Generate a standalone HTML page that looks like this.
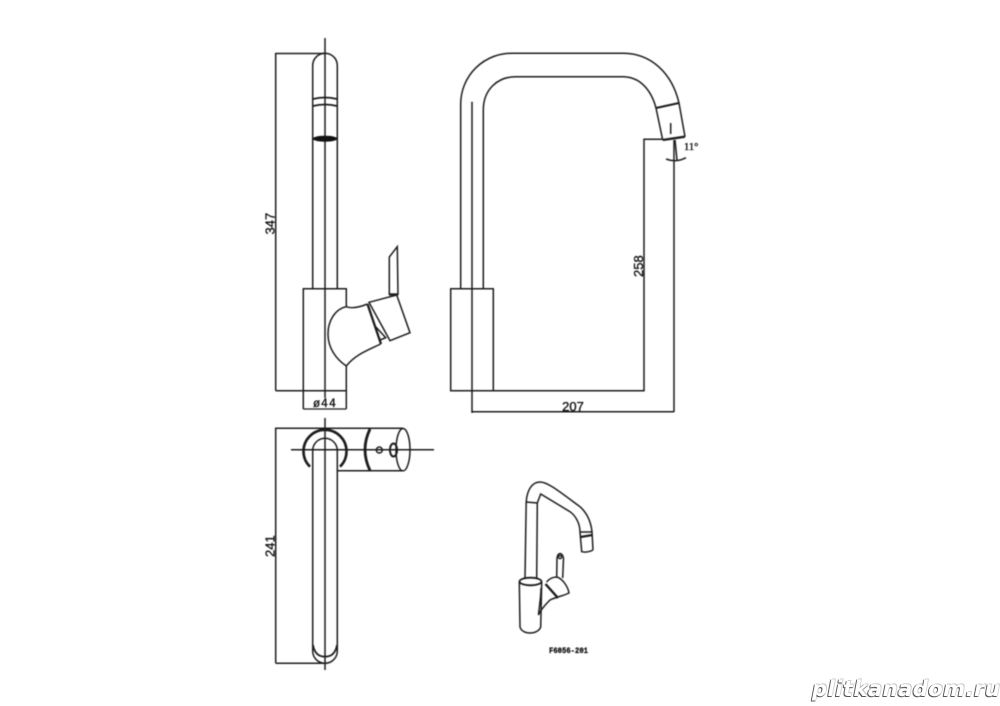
<!DOCTYPE html>
<html>
<head>
<meta charset="utf-8">
<style>
html,body{margin:0;padding:0;background:#fff;width:1000px;height:706px;overflow:hidden}
svg{position:absolute;left:0;top:0;filter:blur(.4px)}
#wm{position:absolute;left:812px;top:677px;width:190px;font:italic bold 21px "DejaVu Sans",sans-serif;letter-spacing:.5px;color:#fff;white-space:nowrap;text-shadow:-1px 1px 0 #555,1px -1px 0 #ccc,-1px 0 0 #777,0 1px 0 #888}
text{font-family:"Liberation Sans",sans-serif;fill:#111;stroke:#111;stroke-width:.35px}
</style>
</head>
<body>
<svg width="1000" height="706" viewBox="0 0 1000 706" fill="none" stroke="#1c1c1c" stroke-width="1.5">
<!-- FRONT VIEW -->
<path d="M312.7 288.7V65.5a12.3 12.3 0 0 1 24.6 0V288.7"/>
<path d="M325 38V398"/>
<path d="M275.7 390.7V53.5H325"/>
<path d="M275.7 390.7H303.3"/>
<path d="M313 99Q325 96 337 99M313 106Q325 103 337 106" stroke-width="1.7"/>
<ellipse cx="325" cy="138.7" rx="12.3" ry="3" fill="#111" stroke="none"/>
<path d="M303.3 409V288.7H346.3V306.7M346.3 366V409"/>
<path d="M303.3 390.7H346.3"/>
<path d="M303.3 409H346.3" stroke-width="1.2"/>
<path d="M346.3 306.7C335 309 328 321 328 334C328 348 336 359 346.3 366C355 355 366 351 380.7 344"/>
<path d="M346.3 306.7C352 309 360 307 367.5 304"/>
<path d="M367.5 304L381 344" stroke-width="2.3"/>
<path d="M369 302.3L396.7 295L410 332.7L390 340.7Z"/>
<path d="M375 326L385.7 337.7L380 340"/>
<path d="M389.3 295V257L397.3 246.7L398 295" />
<path d="M389.3 294.5H398" stroke-width="2.4"/>
<text x="325" y="407" text-anchor="middle" font-size="11.5" letter-spacing="1" style="font-family:'DejaVu Sans Mono','Liberation Mono',monospace">ø44</text>
<text transform="translate(274.5,234.5) rotate(-90)" font-size="13">347</text>

<!-- TOP VIEW -->
<path d="M275.7 663.3V428.3H403"/>
<path d="M275.7 663.3H325"/>
<path d="M337 470.7H403"/>
<path d="M291 449.7H434"/>
<path d="M325 418V670"/>
<path d="M310 466.7A21.5 21.5 0 1 1 340 466.7" stroke-width="2.6"/>
<path d="M312.7 651V450.6a12.3 12.3 0 0 1 24.6 0V651"/>
<path d="M312.7 651a12.3 12.3 0 0 0 24.6 0"/>
<path d="M313 645Q315 656.7 325 656.7T337 645" stroke-width="1.8"/>
<path d="M370 429Q360 449.7 370 470.5" stroke-width="2.8"/>
<ellipse cx="403" cy="449.7" rx="7" ry="21.2"/>
<circle cx="379.3" cy="450" r="3"/>
<ellipse cx="393.5" cy="450" rx="3.6" ry="6.5" stroke-width="2"/>
<text transform="translate(274.5,557) rotate(-90)" font-size="13">241</text>

<!-- SIDE VIEW -->
<path d="M460.7 288.7V104A50.7 50.7 0 0 1 513 53.3H623C651 53.3 672 73 679 103L685 136.7"/>
<path d="M483.3 288.7V110C483.3 90 497 76.7 516 76.7H623C639 76.7 651 89 656 108L662.7 140"/>
<path d="M656 108L679 103" stroke-width="2"/>
<path d="M662.7 140L685 136.7" stroke-width="2.4"/>
<path d="M670.7 123V134"/>
<path d="M472 101.7V413"/>
<path d="M450.7 288.7H493.3V390.7H450.7Z"/>
<path d="M493.3 390.7H644V139.3H663"/>
<path d="M674 412V140"/>
<path d="M472 411.7H674"/>
<path d="M666 159Q676 163 686 157.7"/>
<path d="M675 140L677 160"/>
<text x="573" y="411" text-anchor="middle" font-size="13">207</text>
<text transform="translate(643,277) rotate(-90)" font-size="13">258</text>
<text x="684" y="150" font-size="10.5" style="font-family:'Liberation Serif',serif">11°</text>

<!-- SMALL ISO VIEW -->
<path d="M525 578L526.2 502C527 490 532 482 540 482C548 482 560 492 580 506.7C587 513 591 522 592 532L593 550"/>
<path d="M536.7 578L537.3 503L540.7 494L570 511.7C576 516 580 524 580 532L581.7 551.7Q587 553 593 550"/>
<path d="M526.2 502L537.3 503"/>
<path d="M580 532L592 532" />
<path d="M580.5 537L592.5 535" stroke-width="2.2"/>
<ellipse cx="530.5" cy="581.5" rx="11" ry="3.8" stroke-width="1.8"/>
<path d="M519.3 582L520 627C522 635 538 635 540.7 627L541.7 582"/>
<path d="M541 588C541 598 539 608 538.5 615C541 609 546 604 550 600C556 597 563 596 569 593C568 587 563 579 557 577C553 577 549 579 546.5 582"/>
<path d="M545.5 584L558 598" stroke-width="2.4"/>
<path d="M556.7 577L557 558C558 552 562 552 563.5 558L562.7 578"/>
<circle cx="560" cy="557" r="1.6"/>
<text x="549" y="653" font-size="8.5" textLength="39" lengthAdjust="spacingAndGlyphs" style="font-family:'Liberation Mono',monospace;font-weight:bold">F6056-201</text>
</svg>
<div id="wm">plitkanadom.ru</div>
</body>
</html>
